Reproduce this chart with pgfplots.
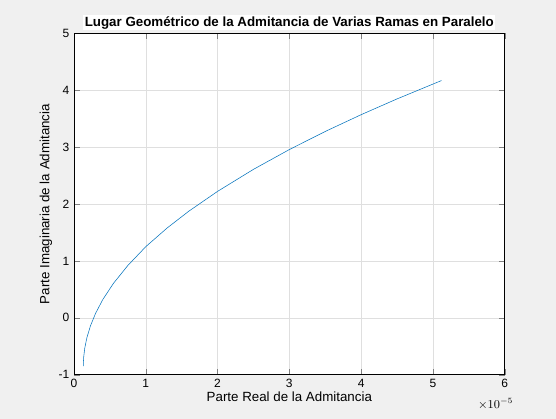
\documentclass[border=0pt]{standalone}
\usepackage{pgfplots}
\pgfplotsset{compat=1.18}
\usepackage{fontspec}
\setmainfont{Liberation Sans}
\begin{document}
\begin{tikzpicture}
\fill[gray!12] (-55.5pt,-33pt) rectangle (361.5pt,281pt);
\begin{axis}[
  at={(0,0)}, anchor=south west,
  width=323pt, height=256pt, scale only axis,
  xmin=0, xmax=6, ymin=-1, ymax=5,
  xtick={0,1,...,6}, ytick={-1,0,...,5},
  grid=major, grid style={gray!25},
  axis background/.style={fill=white},
  tick align=inside,
  /pgf/number format/assume math mode=true,
  ticklabel style={font=\small},
  title={\textbf{Lugar Geométrico de la Admitancia de Varias Ramas en Paralelo}},
  title style={fill=white, font=\normalsize, yshift=-4pt, inner sep=1pt},
  xlabel={Parte Real de la Admitancia},
  ylabel={Parte Imaginaria de la Admitancia},
  label style={font=\normalsize},
  xlabel style={yshift=4pt},
  ylabel style={yshift=-2pt},
]
\addplot[color={rgb,255:red,0;green,114;blue,189}, thin] coordinates {
(0.13,-0.85) (0.131,-0.779) (0.135,-0.691) (0.15,-0.532) (0.18,-0.348)
(0.23,-0.139) (0.3,0.076) (0.4,0.318) (0.55,0.606) (0.75,0.919) (1.0,1.25)
(1.3,1.581) (1.6,1.874) (2.0,2.222) (2.5,2.609) (3.0,2.957) (3.5,3.275)
(4.0,3.570) (4.5,3.847) (5.12,4.17)};
\end{axis}
\node[font=\small, anchor=north east] at (333pt,-14pt) {$\times10^{-5}$};
\end{tikzpicture}
\end{document}
